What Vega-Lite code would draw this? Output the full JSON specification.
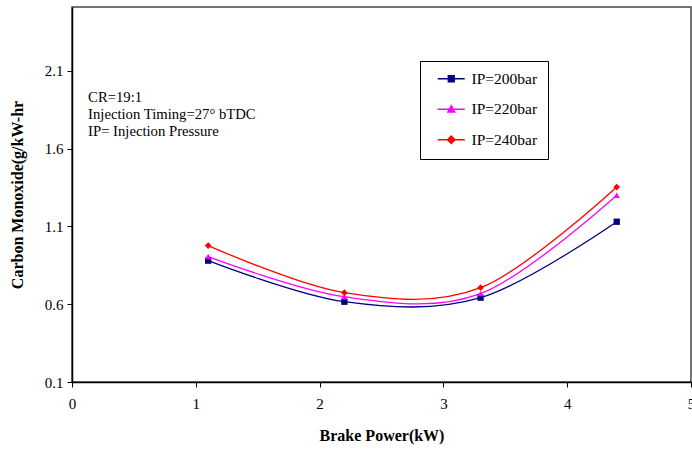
{
  "$schema": "https://vega.github.io/schema/vega-lite/v6.json",
  "width": 619,
  "height": 375,
  "autosize": {"type": "none"},
  "padding": {"left": 72, "top": 7, "right": 1, "bottom": 69},
  "background": "white",
  "config": {
    "font": "Liberation Serif",
    "view": {"stroke": "#444", "strokeWidth": 1.5}
  },
  "data": {
    "values": [
      {"bp": 1.1, "co": 0.88, "series": "IP=200bar"},
      {"bp": 2.2, "co": 0.616, "series": "IP=200bar"},
      {"bp": 3.3, "co": 0.642, "series": "IP=200bar"},
      {"bp": 4.4, "co": 1.13, "series": "IP=200bar"},
      {"bp": 1.1, "co": 0.906, "series": "IP=220bar"},
      {"bp": 2.2, "co": 0.648, "series": "IP=220bar"},
      {"bp": 3.3, "co": 0.668, "series": "IP=220bar"},
      {"bp": 4.4, "co": 1.30, "series": "IP=220bar"},
      {"bp": 1.1, "co": 0.977, "series": "IP=240bar"},
      {"bp": 2.2, "co": 0.674, "series": "IP=240bar"},
      {"bp": 3.3, "co": 0.706, "series": "IP=240bar"},
      {"bp": 4.4, "co": 1.353, "series": "IP=240bar"}
    ]
  },
  "encoding": {
    "x": {
      "field": "bp", "type": "quantitative",
      "scale": {"domain": [0, 5], "nice": false, "zero": false},
      "axis": {
        "title": "Brake Power(kW)", "values": [0, 1, 2, 3, 4, 5],
        "grid": false, "domainColor": "black", "domainWidth": 1.5,
        "tickColor": "black", "tickSize": 5, "labelPadding": 9,
        "labelFont": "Liberation Serif", "labelFontSize": 15, "labelColor": "black",
        "labelFlush": false, "labelOverlap": false,
        "titleFont": "Liberation Serif", "titleFontSize": 16, "titleFontWeight": "bold",
        "titleColor": "black", "titlePadding": 16
      }
    },
    "y": {
      "field": "co", "type": "quantitative",
      "scale": {"domain": [0.1, 2.51], "nice": false, "zero": false},
      "axis": {
        "title": "Carbon Monoxide(g/kW-hr", "values": [0.1, 0.6, 1.1, 1.6, 2.1],
        "format": ".1f",
        "grid": false, "domainColor": "black", "domainWidth": 1.5,
        "tickColor": "black", "tickSize": 5, "labelPadding": 4,
        "labelFont": "Liberation Serif", "labelFontSize": 15, "labelColor": "black",
        "labelFlush": false, "labelOverlap": false,
        "titleFont": "Liberation Serif", "titleFontSize": 16, "titleFontWeight": "bold",
        "titleColor": "black", "titlePadding": 19
      }
    }
  },
  "layer": [
    {
      "mark": {"type": "line", "interpolate": "cardinal", "strokeWidth": 1.3},
      "encoding": {
        "color": {
          "field": "series", "type": "nominal",
          "scale": {"domain": ["IP=200bar", "IP=220bar", "IP=240bar"], "range": ["#000080", "#FF00FF", "#FF0000"]},
          "legend": {
            "title": null,
            "orient": "none",
            "legendX": 348,
            "legendY": 54,
            "strokeColor": "black",
            "fillColor": "white",
            "padding": 10,
            "rowPadding": 13.5,
            "labelFont": "Liberation Serif",
            "labelFontSize": 15.5,
            "labelColor": "black",
            "labelOffset": 26,
            "symbolSize": 100,
            "symbolStrokeWidth": 1.3,
            "encode": {
              "symbols": {
                "update": {
                  "shape": {"signal": "datum.value == 'IP=200bar' ? 'M0,0H5.4M2.1,-0.6H3.3V0.6H2.1Z' : datum.value == 'IP=220bar' ? 'M0,0H5.4M2.7,-0.75L3.4,0.55H2Z' : 'M0,0H5.4M2.7,-0.75L3.45,0L2.7,0.75L1.95,0Z'"},
                  "fill": {"signal": "scale('color', datum.value)"},
                  "stroke": {"signal": "scale('color', datum.value)"},
                  "strokeWidth": {"value": 1.3},
                  "strokeOpacity": {"value": 1},
                  "fillOpacity": {"value": 1},
                  "opacity": {"value": 1}
                }
              }
            }
          }
        }
      }
    },
    {
      "transform": [{"filter": "datum.series == 'IP=200bar'"}],
      "mark": {"type": "point", "filled": true, "opacity": 1, "shape": "square", "size": 40},
      "encoding": {"color": {"field": "series", "type": "nominal", "legend": null}}
    },
    {
      "transform": [{"filter": "datum.series == 'IP=220bar'"}],
      "mark": {"type": "point", "filled": true, "opacity": 1, "shape": "triangle-up", "size": 40},
      "encoding": {"color": {"field": "series", "type": "nominal", "legend": null}}
    },
    {
      "transform": [{"filter": "datum.series == 'IP=240bar'"}],
      "mark": {"type": "point", "filled": true, "opacity": 1, "shape": "diamond", "size": 45},
      "encoding": {"color": {"field": "series", "type": "nominal", "legend": null}}
    },
    {
      "transform": [{"filter": "datum.series == 'IP=200bar' && datum.bp == 1.1"}],
      "mark": {"type": "text", "align": "left", "baseline": "top", "font": "Liberation Serif", "fontSize": 14.7, "lineHeight": 17, "color": "black"},
      "encoding": {
        "x": {"datum": 0.13},
        "y": {"datum": 1.975},
        "text": {"value": ["CR=19:1", "Injection Timing=27° bTDC", "IP= Injection Pressure"]}
      }
    }
  ]
}
